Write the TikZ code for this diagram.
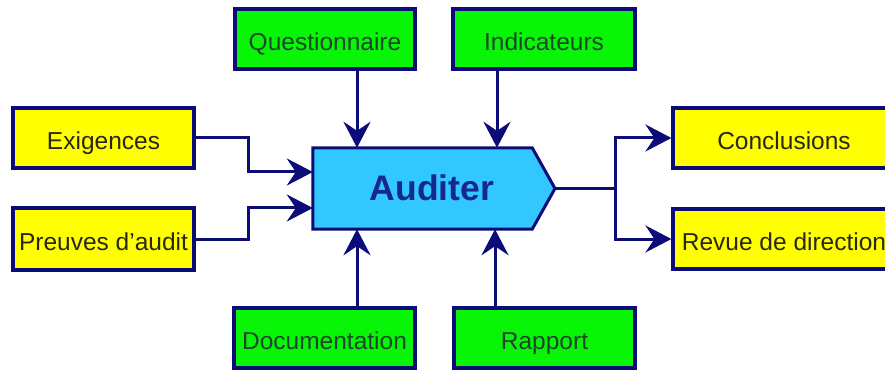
\documentclass[tikz,border=0pt]{standalone}
\usepackage{fontspec}
\setmainfont{Liberation Sans}
\usetikzlibrary{arrows.meta}
\definecolor{navy}{RGB}{12,12,120}
\definecolor{boxgreen}{RGB}{8,245,8}
\definecolor{boxyellow}{RGB}{255,255,0}
\definecolor{maincyan}{RGB}{50,200,255}
\definecolor{maintext}{RGB}{22,40,140}
\definecolor{gtext}{RGB}{30,70,45}
\definecolor{ytext}{RGB}{40,40,20}
\tikzset{
  box/.style={draw=navy, line width=3.2pt, minimum height=60pt, inner sep=0pt,
    text height=23pt, text depth=0pt,
    font=\fontsize{24.5}{28}\selectfont},
  gbox/.style={box, fill=boxgreen, text=gtext, minimum width=180pt},
  ybox/.style={box, fill=boxyellow, text=ytext, minimum width=181pt},
  conn/.style={draw=navy, line width=3pt},
  arr/.style={conn, -{Stealth[length=26pt 0,width=27pt 0,inset=9pt 0]}},
}
\begin{document}
\begin{tikzpicture}[x=1pt,y=-1pt]
\clip (0,0) rectangle (885,371);
\fill[white] (0,0) rectangle (885,371);
% boxes
\node[gbox] (q) at (325,39) {Questionnaire};
\node[gbox, minimum width=182pt] (ind) at (544,39) {Indicateurs};
\node[gbox, minimum width=181pt] (doc) at (324.5,338) {Documentation};
\node[gbox, minimum width=181pt] (rap) at (544.5,338) {Rapport};
\node[ybox] (ex) at (103.5,138) {Exigences};
\node[ybox, minimum height=62pt] (pr) at (103.5,239) {Preuves d'audit};
\node[ybox, minimum width=222pt] (co) at (784,138) {Conclusions};
\node[ybox, minimum width=222pt] (rv) at (784,239) {Revue de direction};
% main process shape
\node[minimum width=219pt, minimum height=81pt, inner sep=0pt] (main) at (422.5,188.5) {};
\coordinate (tip) at (555,188.5);
\draw[navy, line width=3pt, fill=maincyan, line join=miter]
  (main.north west) -- (main.north east) -- (tip) -- (main.south east) -- (main.south west) -- cycle;
\node[text=maintext, font=\fontsize{35.5}{40}\selectfont\bfseries] (lbl) at (432,188) {Auditer};
% vertical inputs
\draw[arr] ([xshift=32pt]q.south) -- ([xshift=32pt]q.south |- main.north);
\draw[arr] ([xshift=-47pt]ind.south) -- ([xshift=-47pt]ind.south |- main.north);
\draw[arr] ([xshift=32.5pt]doc.north) -- ([xshift=32.5pt]doc.north |- main.south);
\draw[arr] ([xshift=-49.5pt]rap.north) -- ([xshift=-49.5pt]rap.north |- main.south);
% horizontal inputs
\draw[arr, line join=miter] (ex.east) -- ++(53,0) |- ([yshift=16.5pt]main.west);
\draw[arr, line join=miter] (pr.east) -- ++(53,0) |- ([yshift=-19.5pt]main.west);
% outputs
\draw[conn] (tip) -- ++(60,0) coordinate (split);
\draw[arr, line join=miter] (split) |- (co.west);
\draw[arr, line join=miter] (split) |- (rv.west);
\end{tikzpicture}
\end{document}
